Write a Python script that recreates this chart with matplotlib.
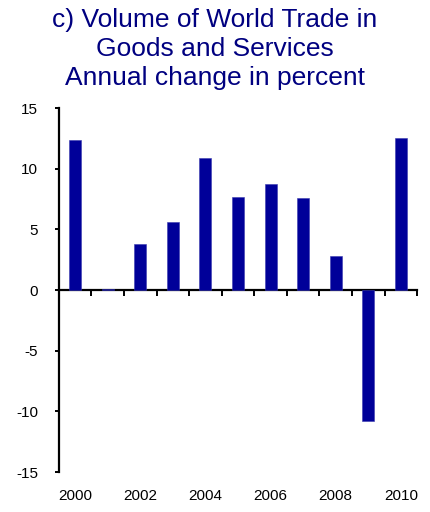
import numpy as np
import matplotlib.pyplot as plt

plt.rcParams['font.family'] = ['Liberation Sans', 'DejaVu Sans']

# data
years = [2000, 2001, 2002, 2003, 2004, 2005, 2006, 2007, 2008, 2009, 2010]
change = [12.4, 0.1, 3.8, 5.6, 10.9, 7.7, 8.7, 7.6, 2.8, -10.8, 12.5]
year_labels = ['2000', '2002', '2004', '2006', '2008', '2010']
y_ticks = [-15, -10, -5, 0, 5, 10, 15]

title = "c) Volume of World Trade in\nGoods and Services\nAnnual change in percent"

fig = plt.figure(figsize=(4.3, 5.12), dpi=100)
ax = fig.add_axes([0.137, 0.078, 0.833, 0.711])

x = np.arange(len(years))
ax.bar(x, change, width=0.37, color='#000099', edgecolor='#3a3ab0', linewidth=0.4, zorder=3)

ax.set_xlim(-0.5, len(years) - 0.5)
ax.set_ylim(-15, 15)

# axis lines
for s in ['top', 'right']:
    ax.spines[s].set_visible(False)
ax.spines['bottom'].set_position(('data', 0))
ax.spines['left'].set_linewidth(1.6)
ax.spines['bottom'].set_linewidth(1.6)

ax.set_yticks(y_ticks)
ax.set_yticklabels([str(v) for v in y_ticks])
ax.tick_params(axis='y', direction='out', length=3, width=1.4, pad=12, labelsize=11)

# category boundary ticks on the zero line
ax.set_xticks(np.arange(-0.5, len(years), 1.0))
ax.set_xticklabels([])
ax.tick_params(axis='x', direction='out', length=4, width=1.4)

# year labels below the plot
sec = ax.secondary_xaxis('bottom')
sec.spines['bottom'].set_visible(False)
sec.set_xticks([years.index(int(y)) for y in year_labels])
sec.set_xticklabels(year_labels)
sec.tick_params(axis='x', length=0, pad=12, labelsize=11)

fig.text(0.5, 0.985, title, ha='center', va='top', fontsize=19,
         color='#000080', linespacing=1.28)

fig.savefig('out.png', dpi=100)
